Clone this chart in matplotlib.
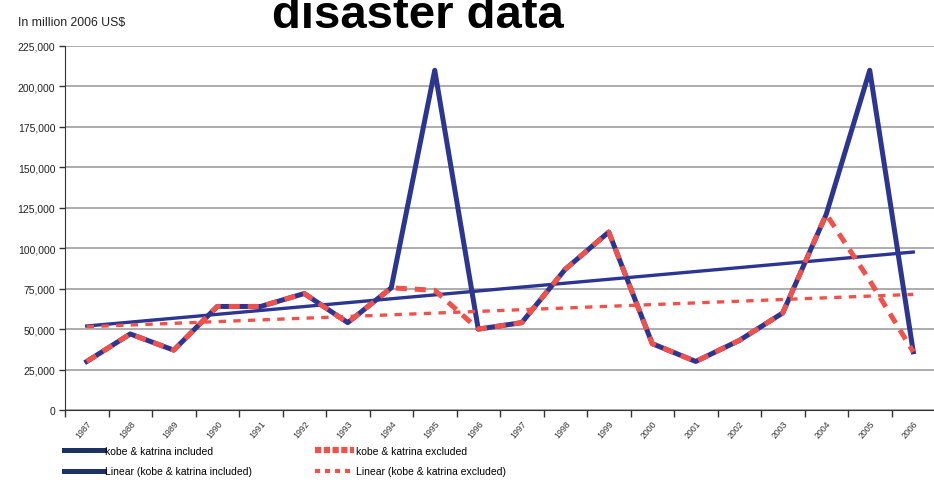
import numpy as np
import matplotlib
matplotlib.use('Agg')
import matplotlib.pyplot as plt
from matplotlib.lines import Line2D

plt.rcParams['font.family'] = ['Liberation Sans', 'DejaVu Sans']

years = [str(y) for y in range(1987, 2007)]
# losses in million 2006 US$
included = [30000, 47000, 37000, 64000, 64000, 72000, 54000, 75500, 210000, 50000,
            54000, 87000, 110000, 41000, 30000, 43000, 60000, 121000, 210000, 36000]
excluded = [30000, 47000, 37000, 64000, 64000, 72000, 54000, 75500, 74000, 50000,
            54000, 87000, 110000, 41000, 30000, 43000, 60000, 121000, 80000, 36000]
yticks = [0, 25000, 50000, 75000, 100000, 125000, 150000, 175000, 200000, 225000]

blue = '#2c3591'
navy = '#1c3262'
red = '#f2504a'

fig = plt.figure(figsize=(9.34, 4.85), dpi=100)
ax = fig.add_axes([65/934, 1-411/485, 870/934, 364/485])

x = np.arange(len(years))
# linear trend lines, as in the spreadsheet
p_inc = np.polyfit(x, included, 1)
p_exc = np.polyfit(x, excluded, 1)

ax.plot(x, included, color=blue, lw=3.6, solid_joinstyle='round', zorder=3)
ax.plot(x, np.polyval(p_inc, x), color=blue, lw=2.4, zorder=3)
ax.plot(x, excluded, color=red, lw=3.6, dashes=(2.2, 1.6), zorder=4)
ax.plot(x, np.polyval(p_exc, x), color=red, lw=2.4, dashes=(2.2, 2.2), zorder=4)

ax.set_xlim(-0.5, len(years) - 0.5)
ax.set_ylim(0, 225000)
ax.set_yticks(yticks)
ax.set_yticklabels([f'{v:,}' for v in yticks], fontsize=7.5, color='#222222')
ax.yaxis.grid(True, color='#a6a6a6', lw=1.3)
ax.set_axisbelow(True)

ax.set_xticks(x)
ax.set_xticklabels(years, rotation=50, ha='right', rotation_mode='anchor',
                   fontsize=6.3, color='#333333')
ax.tick_params(axis='x', length=0, pad=6)
ax.set_xticks(np.arange(-0.5, len(years)), minor=True)
ax.tick_params(axis='x', which='minor', length=5, width=1, color='#333333')
ax.tick_params(axis='y', length=4, width=1, color='#333333', pad=3)

for s in ['top', 'right']:
    ax.spines[s].set_visible(False)
ax.spines['left'].set_color('#333333')
ax.spines['bottom'].set_color('#333333')

fig.text(18/934, 1-26/485, 'In million 2006 US$', fontsize=8.8, color='#222222')
fig.text(418/934, 1-28/485, 'disaster data', fontsize=34, fontweight='bold',
         ha='center', va='baseline')

handles = [
    Line2D([], [], color=navy, lw=3.6),
    Line2D([], [], color=navy, lw=3.6),
    Line2D([], [], color=red, lw=4.5, dashes=(1, 0.4)),
    Line2D([], [], color=red, lw=3.0, dashes=(1.2, 1.2)),
]
labels = ['kobe & katrina included', 'Linear (kobe & katrina included)',
          'kobe & katrina excluded', 'Linear (kobe & katrina excluded)']
fig.legend(handles, labels, ncol=2, loc='upper left', bbox_to_anchor=(64/934, 1-447/485),
           frameon=False, fontsize=7.5, handlelength=3.8, handletextpad=0.15,
           columnspacing=6.0, labelspacing=1.0, borderaxespad=0, borderpad=0)

fig.savefig('out.png', dpi=100)
